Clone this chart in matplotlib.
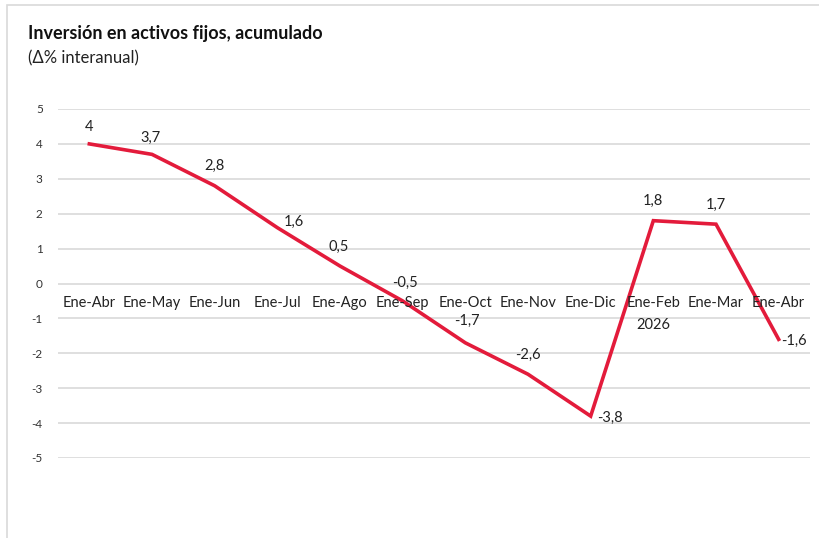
import matplotlib.pyplot as plt
from matplotlib.patches import Rectangle

plt.rcParams['font.family'] = ['Lato', 'DejaVu Sans']

categories = ["Ene-Abr", "Ene-May", "Ene-Jun", "Ene-Jul", "Ene-Ago", "Ene-Sep",
              "Ene-Oct", "Ene-Nov", "Ene-Dic", "Ene-Feb", "Ene-Mar", "Ene-Abr"]
values = [4.0, 3.7, 2.8, 1.6, 0.5, -0.5, -1.7, -2.6, -3.8, 1.8, 1.7, -1.6]
yticks = [5, 4, 3, 2, 1, 0, -1, -2, -3, -4, -5]
# label offsets in points (dx, dy)
label_offsets = [(0, 12), (-1, 12), (0, 14), (12, 4), (-1, 14), (2, 13),
                 (1, 16), (0, 14), (14, -1), (0, 14), (0, 14), (11, -1)]

fig = plt.figure(figsize=(8.19, 5.38), dpi=100)
fig.patches.append(Rectangle((7 / 819, -0.01), 1.0, (533 / 538) + 0.01,
                             transform=fig.transFigure, fill=False,
                             edgecolor="#d9d9d9", linewidth=1.2))

ax = fig.add_axes([58 / 819, 80 / 538, 752 / 819, 349 / 538])
x = list(range(len(categories)))
ax.plot(x, values, color="#e31b3b", linewidth=2.6, solid_joinstyle="miter")
ax.set_xlim(-0.5, len(categories) - 0.5)
ax.set_ylim(-5, 5)
ax.set_yticks(yticks)
ax.set_yticklabels([str(t) for t in yticks], fontsize=8.5, color="#333333")
ax.tick_params(axis="y", length=0, pad=11)
ax.set_xticks([])
ax.grid(axis="y", color="#d9d9d9", linewidth=1.2)
ax.set_axisbelow(True)
for s in ax.spines.values():
    s.set_visible(False)

for i, c in enumerate(categories):
    ax.text(i, -0.55, c, ha="center", va="center", fontsize=10.5, color="#222222")
ax.text(9, -1.2, "2026", ha="center", va="center", fontsize=10.5, color="#222222")

for i, v in enumerate(values):
    dx, dy = label_offsets[i]
    ax.annotate(f"{v:g}".replace(".", ","), (i, v), xytext=(dx, dy),
                textcoords="offset points", ha="center", va="center",
                fontsize=10.5, color="#222222")

fig.text(28 / 819, 1 - 34 / 538, "Inversión en activos fijos, acumulado",
         fontsize=13, fontweight="bold", color="#111111", va="center")
fig.text(28 / 819, 1 - 58 / 538, "(Δ% interanual)", fontsize=12,
         color="#222222", va="center")

fig.savefig("out.png", dpi=100)
